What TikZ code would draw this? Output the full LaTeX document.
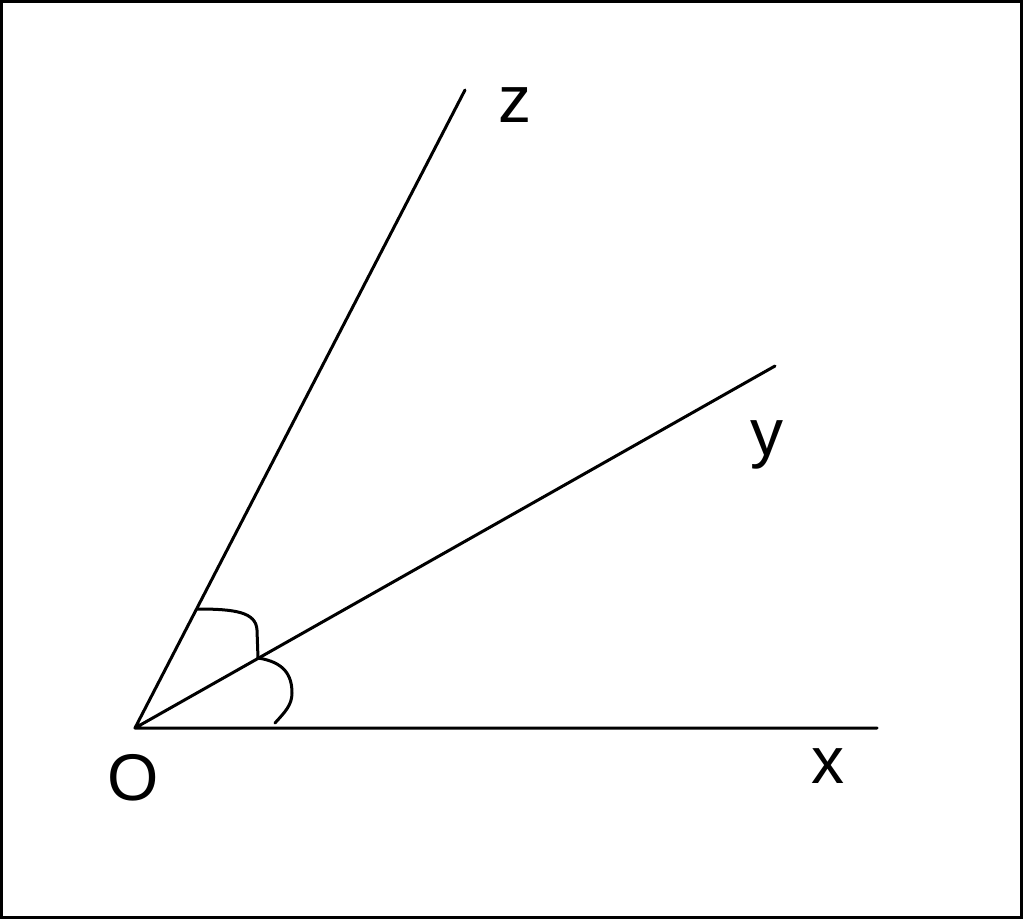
\documentclass[tikz,border=0pt]{standalone}
\usepackage{fontspec}
\setmainfont{Liberation Sans}
\usetikzlibrary{positioning}
\tikzset{
    %Define style for the rays
    strahl/.style={
           draw=black,
           line width=1.5pt,
           line cap=round},
    % Define style for the angle marks
    bogen/.style={
           draw=black,
           line width=1.5pt,
           line cap=round,
           line join=round},
    % Define style for the labels
    marke/.style={
           inner sep=0pt,
           font=\fontsize{33}{36}\selectfont}
}

\begin{document}
\begin{tikzpicture}[x=0.5pt, y=-0.5pt]
  \useasboundingbox (0,0) rectangle (1024,920);
  \draw[line width=1.5pt] (1.5,1.2) rectangle (1021,917.5);
  \coordinate (o) at (135,728);
  \coordinate (x) at (877,728);
  \coordinate (y) at (775,366);
  \coordinate (z) at (465,90);
  \coordinate (b1) at (197,609);
  \coordinate (m) at (258,658);
  \coordinate (b2) at (275,723);
  \node[marke] (lo) at (133,778) {O};
  \node[marke] (lx) at (828,766) {x};
  \node[marke, anchor=base] (ly) at (767,455) {y};
  \node[marke] (lz) at (515,105) {z};
  \path[strahl]
    (o) -- (x)
    (o) -- (y)
    (o) -- (z);
  \draw[bogen] (b1) .. controls (235,609) and (256,612) .. (257,630) -- (m);
  \draw[bogen] (m) .. controls (284,662) and (292,675) .. (292,693)
    .. controls (292,705) and (285,712) .. (b2);
\end{tikzpicture}
\end{document}
